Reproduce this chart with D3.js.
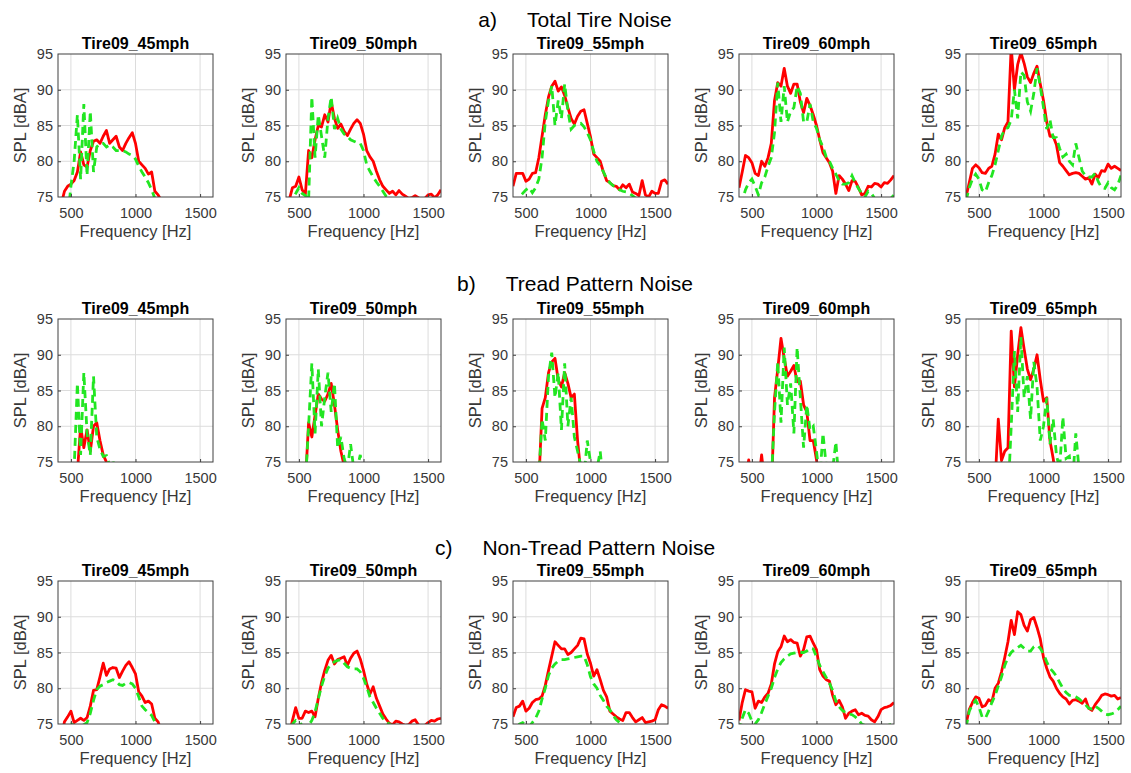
<!DOCTYPE html>
<html>
<head>
<meta charset="utf-8">
<script src="https://cdn.jsdelivr.net/npm/d3@7"></script>
<style>
  html, body { margin: 0; padding: 0; background: #ffffff; }
  svg { display: block; font-family: "Liberation Sans", Arial, Helvetica, sans-serif; }
</style>
</head>
<body>
<svg id="chart" width="1131" height="773"></svg>
<script>
// ---------------- data ----------------
const freq = [400,425,450,475,500,525,550,575,600,625,650,675,700,725,750,775,800,825,850,875,900,925,950,975,1000,
  1025,1050,1075,1100,1125,1150,1175,1200,1225,1250,1275,1300,1325,1350,1375,1400,1425,1450,1475,1500,1525,1550,1575,1600];

const speeds = ["Tire09_45mph","Tire09_50mph","Tire09_55mph","Tire09_60mph","Tire09_65mph"];
const rowLetters = ["a)","b)","c)"];
const rowTitles = ["Total Tire Noise","Tread Pattern Noise","Non-Tread Pattern Noise"];
const xTicks = [500,1000,1500];
const yTicks = [75,80,85,90,95];

// a) Total tire noise — red (solid) and green (dashed)
const totalRed45 = [73,74,75.8,76.5,76.8,77.3,78.5,81.3,79.5,79.2,81.5,82.8,83,82.5,83.5,84.3,82.5,83,83.5,82,81.5,82.5,83.3,84,82.5,80,79.5,79,78.2,78.5,75.8,75.3,74.5,73.5,73,72.5,72,72,72,72,72,72,72,72,72,72,72,72,72];
const totalGreen45 = [70,70,70,72,76.5,80,86.5,77.5,88,78,87,78.5,82,82.5,82.5,82,82.3,82,81.5,81.5,81.5,81.3,81,80.8,80.3,79.3,78.5,77.8,77,76,74.8,73,71,70,70,70,70,70,70,70,70,70,70,70,70,70,70,70,70];
const totalRed50 = [73,74.6,76.3,76.5,77.8,76,75.4,81.5,80.5,83,85,84.8,86.5,85.5,88.3,86,84.6,85.2,84.2,83.6,84.5,85.3,85.8,85.3,83.8,81.5,80.6,80,78.6,77.4,76.5,76,75.5,75.8,75.3,75.9,75.4,75.1,74.8,74.9,75.2,74.9,74.7,74.8,75.3,75.4,74.9,75.3,76];
const totalGreen50 = [72,73.5,74.8,75.5,76.3,75.5,75.2,74.5,89,80.5,86.5,83.5,80.5,86,89,84.5,86,84.5,83.8,83.5,83,82.8,82.6,82.5,81.5,79.5,78.6,77.8,77.1,76.5,75.8,75.1,74.5,73.5,72,72,72,72,72,72,72,72,72,72,72,72,72,72,72];
const totalRed55 = [76.5,78.3,78.3,78.3,77.2,77.5,78.3,78.4,80.5,83.5,86.5,89,90.5,91.2,89.8,90.4,89.2,87.5,86,85.2,86.3,87,87.2,85.3,83.4,81,80.5,80,78.5,77.3,77,76.6,76.5,76,76.7,76.3,76.8,75.7,75.5,75.2,77.3,75.3,75,75.8,75.5,75.5,77.2,77.4,76.8];
const totalGreen55 = [72,73.5,75,75.5,76,76.3,75.6,76.3,77.5,80.5,85.5,88.5,90.5,85,88.5,86,90.8,87,84.5,85,85.2,85.3,84.8,84,83,81.4,80,79.4,78.5,77.6,77,76.6,76.3,76,75.8,75.7,75.5,75.2,74.8,74,73,73,73,73,73,73,73,73,73];
const totalRed60 = [76.3,78.5,80.8,80.5,79.8,78.3,78,80,79.3,80.5,82.5,88.5,91,90.5,93,90.5,89.5,90.8,90.8,88.3,86.8,88.8,87.8,86.5,85,83,81.2,80.5,79.8,78.6,75.5,78,77.5,76.8,75.9,77.3,77.2,76.3,75.3,75.5,76.5,76.4,76.9,76.8,76.4,77,76.9,77.4,78];
const totalGreen60 = [72,74.5,76,77,77.5,76.5,75.3,77,77.8,79.3,80.5,84,91,85.5,90.5,85.5,87,87.5,90.5,89.5,85.5,85.5,88,85.5,84.6,83,82,80.6,80,79,78.2,77.3,76.8,76.8,77,78,77,76.2,75.5,75,75.8,75.5,74.8,74,73.5,73.8,74.2,74.8,75.3];
const totalRed65 = [75,77,79,79.5,79.1,78.4,78.3,79,79.3,81,83.8,83,84.7,85.5,96,90,93.5,95.2,93.7,91.8,91,92.3,93.3,90.8,88.5,85.5,83.5,83.5,82.3,79.8,79.3,78.7,78.1,78.3,78.4,78.3,77.9,77.5,77.7,76.8,78.2,77.7,78.7,78.6,79.6,79,79.3,79,78.7];
const totalGreen65 = [74.5,76.3,77.5,78.2,77.5,76,75.7,77,78,79.5,81.5,83.5,84.5,84.7,85.8,90,86,92.5,92,88.3,87,89.5,93,90.5,87.5,84.5,85.8,83.3,83.3,81.8,80.6,81,80,79.5,82.5,80.5,78.6,78,77.8,77.8,78.3,77.1,76.3,76.2,77,76.3,76,76.7,78];

// b) Tread pattern noise
const treadRed45 = [70,70,70,70,70,72,73.5,80,77,79.5,76.5,80,80.5,78,76,75,73,70,70,70,70,70,70,70,70,70,70,70,70,70,70,70,70,70,70,70,70,70,70,70,70,70,70,70,70,70,70,70,70];
const treadGreen45 = [70,70,70,70,70,74,86,76,87.5,79,76,87,78.5,76.8,75.8,75.9,74.5,75.3,72,70,70,70,70,70,70,70,70,70,70,70,70,70,70,70,70,70,70,70,70,70,70,70,70,70,70,70,70,70,70];
const treadRed50 = [70,70,70,70,70,70,72,80.5,78.5,81.5,84.5,83.8,83.5,84.5,86,83,79.5,76.5,74.5,72,70,70,70,70,70,70,70,70,70,70,70,70,70,70,70,70,70,70,70,70,70,70,70,70,70,70,70,70,70];
const treadGreen50 = [70,70,70,70,70,70,72,80,88.8,79,88,80,84,87.5,82,86,77,78.5,75.5,74,77.5,74,74,76,73,70,70,70,70,70,70,70,70,70,70,70,70,70,70,70,70,70,70,70,70,70,70,70,70];
const treadRed55 = [70,70,70,70,70,70,70,70,72,82.5,84,87.5,89,89.5,86.5,85.5,87.5,86,84,84.5,78,73.5,71,70,70,70,70,70,70,70,70,70,70,70,70,70,70,70,70,70,70,70,70,70,70,70,70,70,70];
const treadGreen55 = [70,70,70,70,70,70,70,70,73,81,78,87,90.3,84,87.5,79.5,88.8,80,84,78.5,76.5,74.5,73,78,75,73,74,76.5,72,70,70,70,70,70,70,70,70,70,70,70,70,70,70,70,70,70,70,70,70];
const treadRed60 = [70,70,72,75.3,72,70,72,76,72,70,70,84,88,92.3,89.5,87,87.7,88.5,86.2,86.3,83,82,78,78,75.3,72,70,70,70,70,70,70,70,70,70,70,70,70,70,70,70,70,70,70,70,70,70,70,70];
const treadGreen60 = [70,70,70,70,70,70,70,70,70,70,72,82,89,80.5,91,83,86,79,91,84,77,83,79.5,80,76.5,72.5,79,74.5,73,74,77.8,72,70,70,70,70,70,70,70,70,70,70,70,70,70,70,70,70,70];
const treadRed65 = [70,70,70,70,70,70,70,70,70,72,81,75.2,76.5,77,93.3,85.5,90,93.8,90.8,88,86.5,88,90,86.5,83.5,84,78,75.5,72,70,70,70,70,70,70,70,70,70,70,70,70,70,70,70,70,70,70,70,70];
const treadGreen65 = [70,70,70,70,70,70,70,70,70,70,70,70,70,70,80,90.5,82,92.5,84,87,81,89,85.5,78,80,84,77.5,81,76,74,81.3,75.5,75.8,72,79,74,70,70,70,70,70,70,70,70,70,70,70,70,70];

// c) Non-tread pattern noise
const nonTreadRed45 = [72,73,75.3,76,76.8,75.2,75.5,75.8,75.5,75.9,77.5,79.7,79.8,81.6,83.5,81.8,82.7,82.9,82.8,81.5,82.4,83.2,83.7,82.9,82,79.5,78.9,78,78.2,77.8,75.8,75.3,74,72,72,72,72,72,72,72,72,72,72,72,72,72,72,72,72];
const nonTreadGreen45 = [72,73.5,74.3,74.8,75,74.8,74.6,74.7,74.9,75.2,76.5,78.3,79.8,80.3,80.5,80.8,81,81.2,81,80.5,80.4,80.7,80.8,80.6,80,78.8,77.5,77,76.6,76.2,75.3,74.5,73,72,72,72,72,72,72,72,72,72,72,72,72,72,72,72,72];
const nonTreadRed50 = [72,73.5,75.5,77.3,75.8,75.8,76.8,76.6,76.8,76,78.6,80.8,82.5,83.9,84.6,83.4,84,84.2,84.4,83.2,84.2,84.9,85.2,84.1,82.5,80.6,79.2,80.2,78.6,77.5,76.4,75.7,75.1,74.9,75.4,75.3,75,74.8,74.9,75.4,75.6,74.9,74.6,74.8,75.2,75.5,75.4,75.7,75.8];
const nonTreadGreen50 = [73,74.2,75,75.5,75.3,74.8,74.6,74.8,75.5,76.7,78.5,80.3,81.7,82.8,83.4,83.7,83.9,84,83.5,83,82.8,82.7,82.7,82.3,81.4,80.2,78.8,78,77.2,76.5,75.8,75.3,75,74.7,74,74,74,74,74,74,74,74,74,74,74,74,74,74,74];
const nonTreadRed55 = [76,77.3,77.5,78.2,76.8,77.2,78,78.4,78.5,78.9,80.4,82.5,84.5,86.5,86,85.5,85.5,84.7,85,85.5,86,87,86.9,84.8,83.5,81.7,82.6,81.2,79.7,78.8,76.8,76.4,76,75.7,75.5,76.6,76.6,75.9,75.3,75.6,75.9,75.2,75.3,75.4,75.6,77,77.7,77.5,77.2];
const nonTreadGreen55 = [73,74.3,75,75.2,74.8,74.6,75.2,75.8,76.8,78.5,80,81.8,82.8,83.4,83.8,84,84,84.1,84.2,84.3,84.4,84.5,84.5,83.3,81.6,80.6,80,79,78.3,77.5,77,76.2,75.6,75.2,75,74.7,74,74,74,74,74,74,74,74,74,74,74,74,74];
const nonTreadRed60 = [75.5,78,79.8,79.6,79.5,77.2,78.2,78,78.8,79.3,80.6,83.4,85.1,85.8,87.3,86.5,86.8,86.4,86.3,84.5,85.4,87.2,87.3,86.3,85.4,82.6,81.7,81.2,81,79,77.7,78.3,77.4,75.8,76.5,76.8,77,76.3,76.5,76.2,76.1,75.6,75.3,76,77,77.3,77.4,77.6,78];
const nonTreadGreen60 = [74,75.8,77,76.5,75.4,75,75.6,76.6,77.8,78.9,80,81.5,82.7,83.6,84.1,84.5,84.8,84.9,85,85,85,85.2,85.6,85.5,84.4,83.2,82.3,81.5,80.7,79.7,78.2,77.4,76.9,76.6,76.4,76.3,76,75.6,75,74.8,74.6,74.5,74.4,74.5,74.7,74.8,74.8,74.9,75.1];
const nonTreadRed65 = [75,77,78,78.8,78.6,77.4,77.6,78.4,78.1,80,80.7,82.3,84.3,86.5,89.5,87.5,90.7,90.3,88.8,88,89.6,89.9,88.5,86.9,84.3,82.8,81.6,81,80,79.3,78.8,78.5,77.8,78.3,78.4,78.2,77.9,78.5,77.2,76.9,77.7,78.3,79,79.2,79.1,78.9,79,78.5,78.7];
const nonTreadGreen65 = [74.5,76.8,77.7,78.3,77.4,76,75.8,76.8,78,79,80.3,81.6,83.2,84.3,85,85.4,85.7,86,85.6,85.2,85.2,85.8,86,85.6,84.8,83.7,82.8,82.3,81.7,80.8,80,79.4,79,79,78.8,78.5,78.1,77.7,77.2,77.1,77.5,77.2,76.8,76.4,76.3,76.4,76.6,77,77.5];

const redSeries = [
  [totalRed45,totalRed50,totalRed55,totalRed60,totalRed65],
  [treadRed45,treadRed50,treadRed55,treadRed60,treadRed65],
  [nonTreadRed45,nonTreadRed50,nonTreadRed55,nonTreadRed60,nonTreadRed65]
];
const greenSeries = [
  [totalGreen45,totalGreen50,totalGreen55,totalGreen60,totalGreen65],
  [treadGreen45,treadGreen50,treadGreen55,treadGreen60,treadGreen65],
  [nonTreadGreen45,nonTreadGreen50,nonTreadGreen55,nonTreadGreen60,nonTreadGreen65]
];

// ---------------- layout ----------------
const colLeft = [58, 286, 513, 739, 966];
const rowTop = [54, 319, 581];
const rowTitleY = [27, 291, 555];
const plotW = 155, plotH = 143;
const RED = "#ff0000", GREEN = "#22e622", TXT = "#383838";

const svg = d3.select("#chart");
svg.append("rect").attr("width",1131).attr("height",773).attr("fill","#fff");

// row titles
rowTitles.forEach((t, r) => {
  const tx = svg.append("text")
    .attr("x", 575).attr("y", rowTitleY[r])
    .attr("text-anchor","middle")
    .attr("font-size", 21).attr("fill","#000");
  tx.append("tspan").text(rowLetters[r]);
  tx.append("tspan").attr("dx", 30).text(t);
});

let clipId = 0;
for (let r = 0; r < 3; r++) {
  for (let c = 0; c < 5; c++) {
    const left = colLeft[c], top = rowTop[r];
    const x = d3.scaleLinear().domain([400,1600]).range([left, left+plotW]);
    const y = d3.scaleLinear().domain([75,95]).range([top+plotH, top]);
    const g = svg.append("g");

    // grid
    g.append("g").selectAll("line").data(xTicks).join("line")
      .attr("x1", d=>x(d)).attr("x2", d=>x(d)).attr("y1", top).attr("y2", top+plotH)
      .attr("stroke","#dcdcdc").attr("stroke-width",1);
    g.append("g").selectAll("line").data(yTicks.slice(1,-1)).join("line")
      .attr("y1", d=>y(d)).attr("y2", d=>y(d)).attr("x1", left).attr("x2", left+plotW)
      .attr("stroke","#dcdcdc").attr("stroke-width",1);

    // clip
    const id = "clip" + (clipId++);
    svg.append("clipPath").attr("id", id).append("rect")
      .attr("x", left).attr("y", top).attr("width", plotW).attr("height", plotH);

    const line = d3.line().x(d=>x(d[0])).y(d=>y(d[1]));
    const redData = redSeries[r][c].map((v,i)=>[freq[i], v]).filter(d=>d[0]!==undefined);
    const greenData = greenSeries[r][c].map((v,i)=>[freq[i], v]).filter(d=>d[0]!==undefined);

    const lines = g.append("g").attr("clip-path", `url(#${id})`);
    lines.append("path").datum(redData).attr("d", line)
      .attr("fill","none").attr("stroke",RED).attr("stroke-width",2.8)
      .attr("stroke-linejoin","round");
    lines.append("path").datum(greenData).attr("d", line)
      .attr("fill","none").attr("stroke",GREEN).attr("stroke-width",2.8)
      .attr("stroke-dasharray","8,5");

    // axes
    const xa = g.append("g").attr("transform", `translate(0,${top+plotH})`)
      .call(d3.axisBottom(x).tickValues(xTicks).tickFormat(d3.format("d")).tickSize(-3).tickPadding(11));
    const ya = g.append("g").attr("transform", `translate(${left},0)`)
      .call(d3.axisLeft(y).tickValues(yTicks).tickFormat(d3.format("d")).tickSize(-3).tickPadding(5));
    [xa, ya].forEach(a => {
      a.select(".domain").remove();
      a.selectAll("line").attr("stroke","#404040");
      a.selectAll("text").attr("fill",TXT).attr("font-size",14.5)
        .attr("font-family",'"Liberation Sans", Arial, sans-serif');
    });
    ya.selectAll(".tick").filter(d=>d===75||d===95).select("line").remove();

    // box
    g.append("rect").attr("x", left).attr("y", top).attr("width", plotW).attr("height", plotH)
      .attr("fill","none").attr("stroke","#404040").attr("stroke-width",1);

    // title
    g.append("text").attr("x", left+plotW/2).attr("y", top-5)
      .attr("text-anchor","middle").attr("font-size",16).attr("font-weight","bold")
      .attr("fill","#000").text(speeds[c]);

    // axis labels
    g.append("text").attr("x", left+plotW/2).attr("y", top+plotH+40)
      .attr("text-anchor","middle").attr("font-size",16.5).attr("fill",TXT)
      .text("Frequency [Hz]");
    g.append("text")
      .attr("transform", `translate(${left-32},${top+plotH/2}) rotate(-90)`)
      .attr("text-anchor","middle").attr("font-size",16.5).attr("fill",TXT)
      .text("SPL [dBA]");
  }
}
</script>
</body>
</html>
